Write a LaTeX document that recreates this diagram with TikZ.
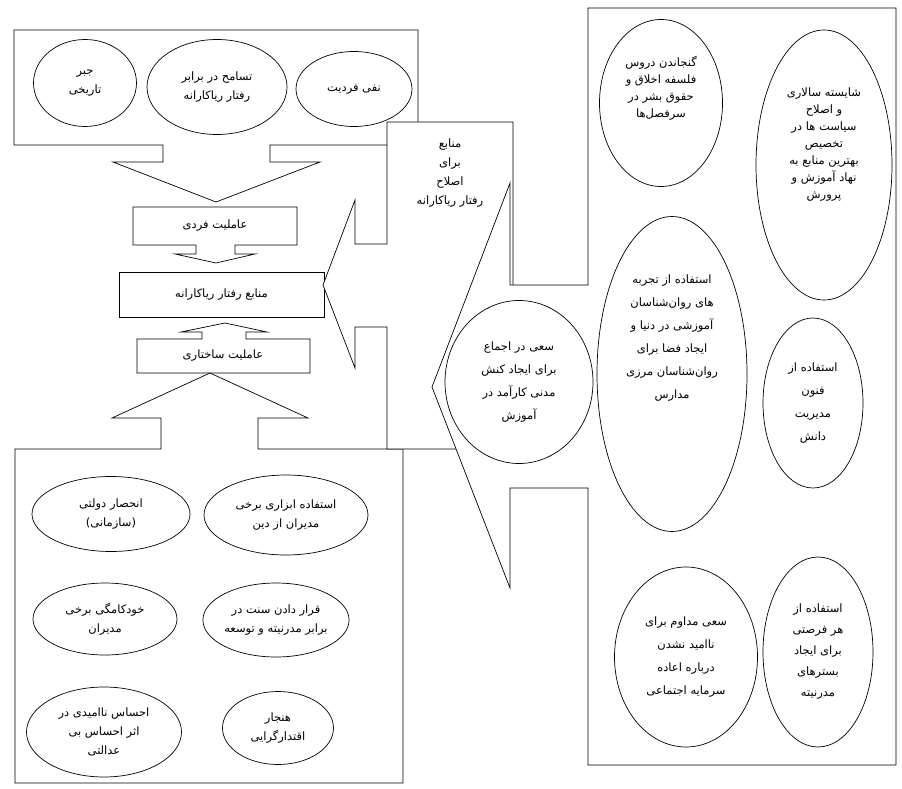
\documentclass[tikz,border=0pt]{standalone}
\usepackage{fontspec}
\usetikzlibrary{shapes.geometric}
\newfontfamily\farsi[Script=Arabic]{DejaVu Sans}
\TeXXeTstate=1
\newcommand{\fa}[1]{\beginR #1\endR}

\begin{document}
\begin{tikzpicture}[x=1pt, y=-1pt, line width=0.7pt,
  every node/.style={font=\farsi\fontsize{11.5}{19}\selectfont, align=center, inner sep=1pt},
  tight/.style={font=\farsi\fontsize{11.5}{17}\selectfont},
  loose/.style={font=\farsi\fontsize{11.5}{23}\selectfont},
  oval/.style={draw, ellipse, fill=white, inner sep=0pt}]
\useasboundingbox (0,0) rectangle (902,789);

\draw[fill=white] (14,30) -- (418,30) -- (418,145) -- (270,145) -- (270,162) -- (320,162) -- (216,202) -- (113,162) -- (163,162) -- (163,145) -- (14,145) -- cycle;
\node[oval, minimum width=103pt, minimum height=87pt] (jabr) at (85,83) {\fa{جبر}\\\fa{تاریخی}};
\node[oval, minimum width=140pt, minimum height=95pt] (tasamoh) at (217,87) {\fa{تسامح در برابر}\\\fa{رفتار ریاکارانه}};
\node[oval, minimum width=116pt, minimum height=75pt] (nafy) at (354,89) {\fa{نفی فردیت}};

\draw[fill=white] (133,207) -- (297,207) -- (297,245) -- (235,245) -- (235,254) -- (255,254) -- (216,263) -- (175,254) -- (196,254) -- (196,245) -- (133,245) -- cycle;
\node (fardi) at (215,226) {\fa{عاملیت فردی}};
\node[draw, fill=white, minimum width=205pt, minimum height=45pt] (manabe) at (221.5,294.5) {\fa{منابع رفتار ریاکارانه}};
\draw[fill=white] (137,373) -- (137,339) -- (202,339) -- (202,332) -- (181,332) -- (225,323) -- (267,332) -- (246,332) -- (246,339) -- (310,339) -- (310,373) -- cycle;
\node (sakhtari) at (223,356) {\fa{عاملیت ساختاری}};

\draw[fill=white] (15,783) -- (15,449) -- (161,449) -- (161,418) -- (112,418) -- (210,373) -- (308,418) -- (258,418) -- (258,449) -- (403,449) -- (403,783) -- cycle;
\node[oval, minimum width=158pt, minimum height=75pt] (enhesar) at (111,514) {\fa{انحصار دولتی}\\\fa{(سازمانی)}};
\node[oval, minimum width=164pt, minimum height=80pt] (abzari) at (286,515) {\fa{استفاده ابزاری برخی}\\\fa{مدیران از دین}};
\node[oval, minimum width=144pt, minimum height=72pt] (khodkamegi) at (105,619) {\fa{خودکامگی برخی}\\\fa{مدیران}};
\node[oval, minimum width=145pt, minimum height=74pt] (sonnat) at (276,620) {\fa{قرار دادن سنت در}\\\fa{برابر مدرنیته و توسعه}};
\node[oval, minimum width=155pt, minimum height=90pt] (naomidi) at (104,732) {\fa{احساس ناامیدی در}\\\fa{اثر احساس بی}\\\fa{عدالتی}};
\node[oval, minimum width=111pt, minimum height=73pt] (hanjar) at (278,728) {\fa{هنجار}\\\fa{اقتدارگرایی}};

\draw[fill=white] (387,122) -- (513,122) -- (513,449) -- (387,449) -- (387,327) -- (355,327) -- (355,368) -- (323,285) -- (355,200) -- (355,244) -- (387,244) -- cycle;
\node (eslah) at (450,173) {\fa{منابع}\\\fa{برای}\\\fa{اصلاح}\\\fa{رفتار ریاکارانه}};

\draw[fill=white] (588,8) -- (896,8) -- (896,765) -- (588,765) -- (588,488) -- (510,488) -- (510,588) -- (432,387) -- (510,183) -- (510,285) -- (588,285) -- cycle;
\node[oval, minimum width=123pt, minimum height=167pt] (gonjandan) at (661,103) {};
\node[tight] (gonjandanT) at (661,88) {\fa{گنجاندن دروس}\\\fa{فلسفه اخلاق و}\\\fa{حقوق بشر در}\\\fa{سرفصل‌ها}};
\node[oval, minimum width=136pt, minimum height=270pt] (shayeste) at (824,165) {};
\node[tight] (shayesteT) at (824,145) {\fa{شایسته سالاری}\\\fa{و اصلاح}\\\fa{سیاست ها در}\\\fa{تخصیص}\\\fa{بهترین منابع به}\\\fa{نهاد آموزش و}\\\fa{پرورش}};
\node[oval, minimum width=150pt, minimum height=315pt] (tajrobe) at (672,374) {};
\node[loose] (tajrobeT) at (672,338) {\fa{استفاده از تجربه}\\\fa{های روان‌شناسان}\\\fa{آموزشی در دنیا و}\\\fa{ایجاد فضا برای}\\\fa{روان‌شناسان مرزی}\\\fa{مدارس}};
\node[oval, loose, minimum width=100pt, minimum height=170pt] (fonun) at (813,403) {\fa{استفاده از}\\\fa{فنون}\\\fa{مدیریت}\\\fa{دانش}};
\node[oval, loose, minimum width=148pt, minimum height=163pt] (ejma) at (519,382) {\fa{سعی در اجماع}\\\fa{برای ایجاد کنش}\\\fa{مدنی کارآمد در}\\\fa{آموزش}};
\node[oval, loose, minimum width=143pt, minimum height=180pt] (modavem) at (686,657) {\fa{سعی مداوم برای}\\\fa{ناامید نشدن}\\\fa{درباره اعاده}\\\fa{سرمایه اجتماعی}};
\node[oval, minimum width=110pt, minimum height=190pt, font=\farsi\fontsize{11.5}{21}\selectfont] (forsat) at (818,652) {\fa{استفاده از}\\\fa{هر فرصتی}\\\fa{برای ایجاد}\\\fa{بسترهای}\\\fa{مدرنیته}};
\end{tikzpicture}
\end{document}
